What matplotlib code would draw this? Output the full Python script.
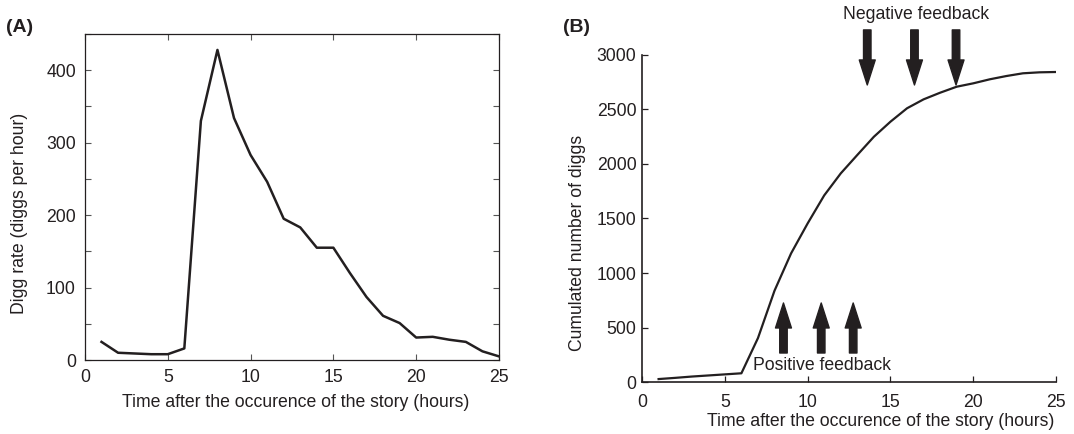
import matplotlib
matplotlib.use('Agg')
import matplotlib.pyplot as plt
from matplotlib.patches import FancyArrowPatch

plt.rcParams['font.family'] = ['Liberation Sans', 'DejaVu Sans']

# (A) digg rate per hour
hours = list(range(1, 26))
rate = [25, 10, 9, 8, 8, 16, 330, 428, 334, 283, 246, 195, 183, 155, 155,
        120, 87, 61, 51, 31, 32, 28, 25, 12, 5]

# (B) cumulated number of diggs
cum_diggs = [27, 38, 50, 60, 70, 80, 403, 838, 1180, 1455, 1712, 1914, 2083,
             2250, 2388, 2511, 2593, 2654, 2709, 2740, 2777, 2807, 2832, 2841, 2844]

# feedback arrows in panel B: (x, tail y, tip y)
neg_x = [13.6, 16.45, 18.96]
neg_y = (3230, 2725)
pos_x = [8.54, 10.82, 12.75]
pos_y = (266, 725)

ink = '#231f20'
fs = 12.7
xlab = 'Time after the occurence of the story (hours)'
fig = plt.figure(figsize=(10.74, 4.34), dpi=100)

# ---- panel A
axA = fig.add_axes([0.0791, 0.1705, 0.3855, 0.7512])
axA.plot(hours, rate, color=ink, lw=1.8)
axA.set_xlim(0, 25)
axA.set_ylim(0, 450)
axA.set_xticks(range(0, 26, 5))
axA.set_yticks(range(0, 451, 50))
axA.set_yticklabels([str(v) if v % 100 == 0 and v < 450 else '' for v in range(0, 451, 50)])
axA.tick_params(direction='in', top=True, right=True, length=4, width=0.8,
                labelsize=fs, colors='#555555', labelcolor=ink)
axA.tick_params(axis='x', pad=6.5)
axA.tick_params(axis='y', pad=6.5)
for s in axA.spines.values():
    s.set_color(ink)
    s.set_linewidth(0.9)
axA.set_xlabel(xlab, fontsize=fs, color=ink, va='center')
axA.xaxis.set_label_coords(0.51, -0.129)
axA.set_ylabel('Digg rate (diggs per hour)', fontsize=fs, color=ink, va='center')
axA.yaxis.set_label_coords(-0.157, 0.451)
fig.text(20 / 1074, 1 - 27 / 434, '(A)', fontsize=14, fontweight='bold', color=ink,
         ha='center', va='center')

# ---- panel B
axB = fig.add_axes([0.5978, 0.1198, 0.3855, 0.7535])
axB.plot(hours, cum_diggs, color=ink, lw=1.6)
axB.set_xlim(0, 25)
axB.set_ylim(0, 3000)
axB.set_xticks(range(0, 26, 5))
axB.set_yticks(range(0, 3001, 500))
axB.spines['top'].set_visible(False)
axB.spines['right'].set_visible(False)
for s in ['left', 'bottom']:
    axB.spines[s].set_color(ink)
    axB.spines[s].set_linewidth(1.2)
axB.tick_params(direction='in', length=4, width=0.9, labelsize=fs, colors=ink)
axB.tick_params(axis='x', pad=8.5)
axB.tick_params(axis='y', pad=4)
axB.set_xlabel(xlab, fontsize=fs, color=ink, va='center')
axB.xaxis.set_label_coords(0.577, -0.122)
axB.set_ylabel('Cumulated number of diggs', fontsize=fs, color=ink, va='center')
axB.yaxis.set_label_coords(-0.157, 0.425)
fig.text(576 / 1074, 1 - 27 / 434, '(B)', fontsize=14, fontweight='bold', color=ink,
         ha='center', va='center')

arrow_style = 'simple,head_length=18,head_width=11.5,tail_width=5.4'
for x in neg_x:
    axB.add_patch(FancyArrowPatch((x, neg_y[0]), (x, neg_y[1]), arrowstyle=arrow_style,
                                  mutation_scale=1, color=ink, shrinkA=0, shrinkB=0,
                                  clip_on=False))
for x in pos_x:
    axB.add_patch(FancyArrowPatch((x, pos_y[0]), (x, pos_y[1]), arrowstyle=arrow_style,
                                  mutation_scale=1, color=ink, shrinkA=0, shrinkB=0,
                                  clip_on=False))
axB.text(16.55, 3376, 'Negative feedback', fontsize=fs, color=ink, ha='center', va='center',
         clip_on=False)
axB.text(10.87, 147, 'Positive feedback', fontsize=fs, color=ink, ha='center', va='center')

fig.savefig('out.png', dpi=100)
